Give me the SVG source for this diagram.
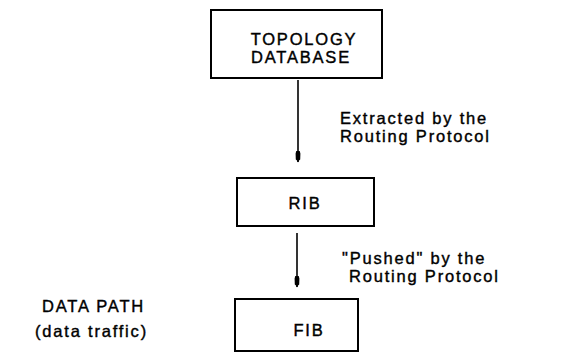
<svg xmlns="http://www.w3.org/2000/svg" width="561" height="353" viewBox="0 0 561 353">
<style>
.box{fill:#fff;stroke:#000;stroke-width:2}
.t{font-family:"Liberation Sans",Arial,sans-serif;font-size:16.5px;letter-spacing:1.8px;fill:#000;stroke:#000;stroke-width:0.4}
.c{text-anchor:middle}
.ln{stroke:#000;stroke-width:1.6;fill:none}
</style>
<defs>
<marker id="ah" markerWidth="12" markerHeight="6" refX="11.5" refY="3" orient="auto" markerUnits="userSpaceOnUse" viewBox="0 0 12 6">
<path d="M0,1.4 L3,0.6 L9,0.8 L10,2 L12,3 L10,4 L9,5.2 L3,5.4 L0,4.6 Z" fill="#000"/>
</marker>
</defs>
<rect width="561" height="353" fill="#fff"/>
<g id="topology">
<rect class="box" x="211" y="10" width="171" height="68"/>
<text class="t c" x="304" y="45">TOPOLOGY</text>
<text class="t c" x="301" y="63">DATABASE</text>
</g>
<g id="rib">
<rect class="box" x="237" y="178" width="137" height="48"/>
<text class="t c" x="305" y="209">RIB</text>
</g>
<g id="fib">
<rect class="box" x="235" y="299" width="123" height="52"/>
<text class="t c" x="309" y="336">FIB</text>
</g>
<g id="connectors">
<line class="ln" x1="298" y1="80" x2="298" y2="162" marker-end="url(#ah)"/>
<line class="ln" x1="297" y1="233" x2="297" y2="287" marker-end="url(#ah)"/>
</g>
<g id="labels">
<text class="t" x="340" y="124">Extracted by the</text>
<text class="t" x="340" y="142">Routing Protocol</text>
<text class="t" x="342" y="264">"Pushed" by the</text>
<text class="t" x="349" y="282">Routing Protocol</text>
<text class="t" x="42" y="312">DATA PATH</text>
<text class="t" x="35" y="337">(data traffic)</text>
</g>
</svg>
